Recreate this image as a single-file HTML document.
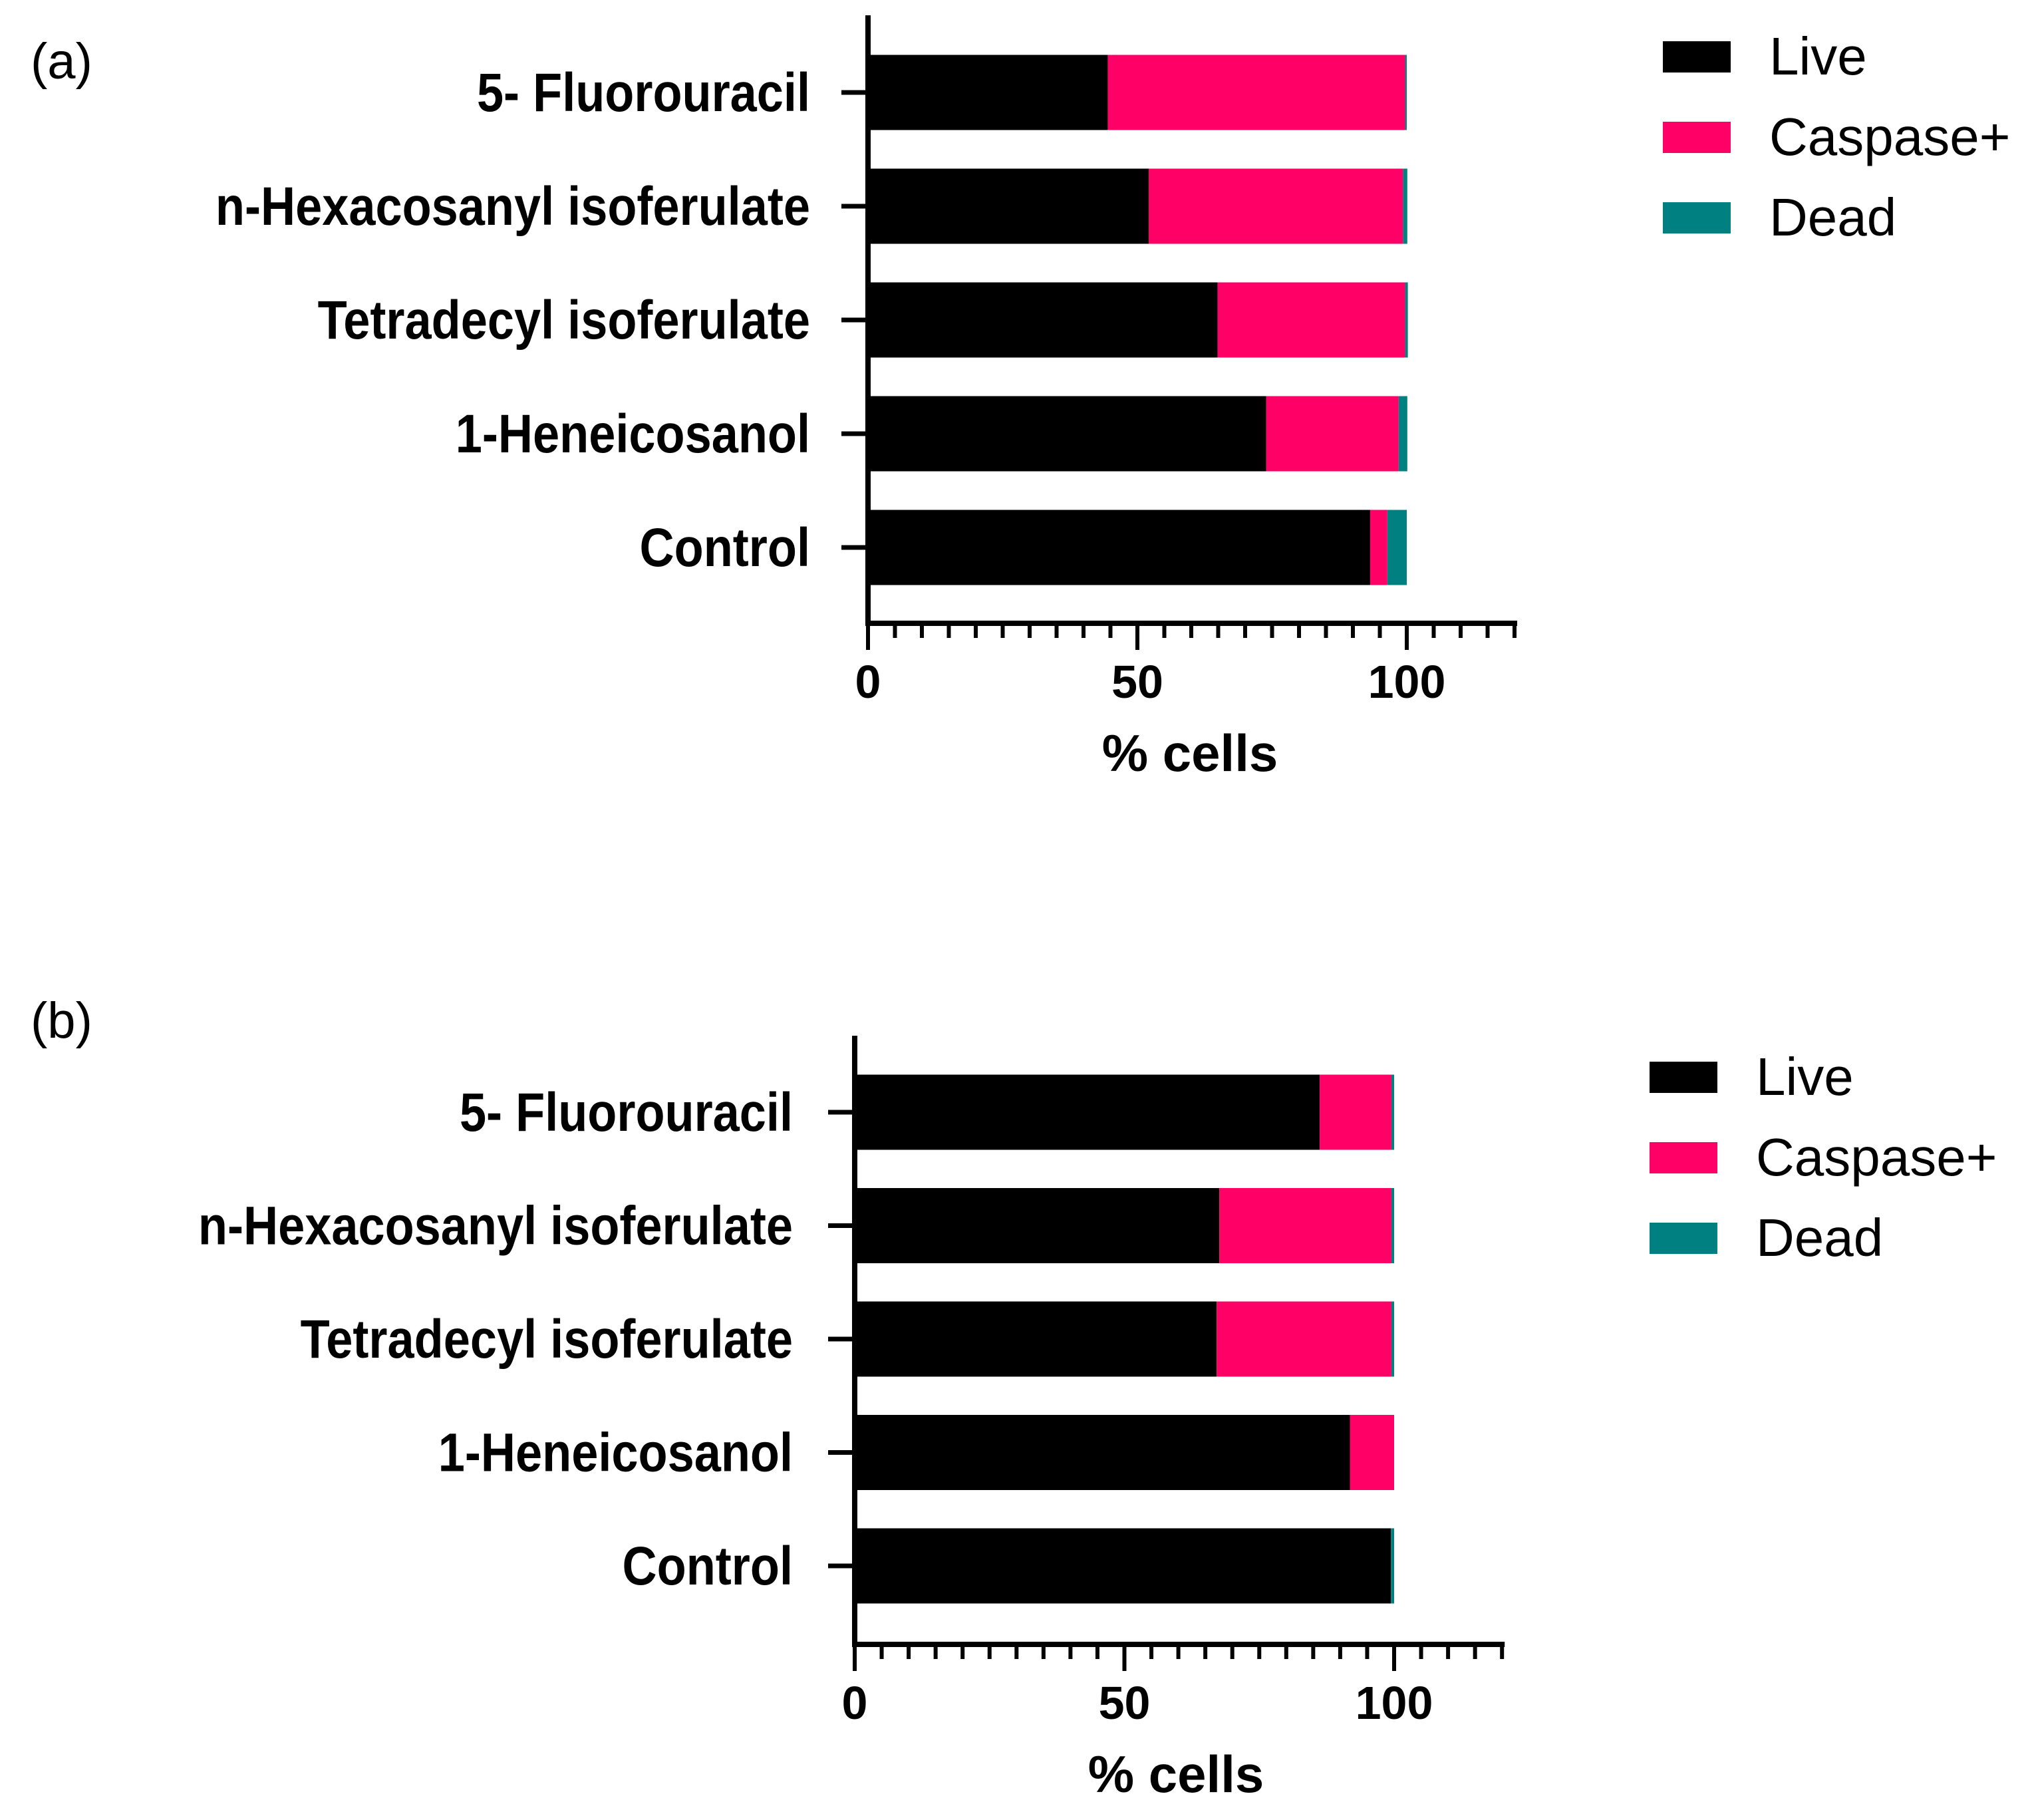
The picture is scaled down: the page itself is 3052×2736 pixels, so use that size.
<!DOCTYPE html>
<html>
<head>
<meta charset="utf-8">
<style>
  html, body { margin: 0; padding: 0; background: #fff; }
  svg { display: block; }
  text { font-family: "Liberation Sans", Arial, sans-serif; }
</style>
</head>
<body>
<svg id="fig" width="3052" height="2736" viewBox="0 0 3052 2736" xmlns="http://www.w3.org/2000/svg">
  <rect width="3052" height="2736" fill="#fff"/>
</svg>
<script>
// ---- data ----
const categories = ["5- Fluorouracil", "n-Hexacosanyl isoferulate", "Tetradecyl isoferulate", "1-Heneicosanol", "Control"];
const seriesNames = ["Live", "Caspase+", "Dead"];
const liveA = [44.5, 52.1, 64.9, 73.9, 93.2];
const caspA = [55.2, 47.2, 34.8, 24.6, 3.2];
const deadA = [0.3, 0.8, 0.5, 1.6, 3.6];
const liveB = [86.2, 67.6, 67.1, 91.8, 99.4];
const caspB = [13.3, 31.9, 32.4, 8.2, 0.0];
const deadB = [0.5, 0.5, 0.5, 0.0, 0.6];
const xTicks = [0, 50, 100];
const xTickLabels = ["0", "50", "100"];
const xMax = 120;
const minorStep = 5;

const colors = ["#000000", "#ff0066", "#008080"];
const NS = "http://www.w3.org/2000/svg";
const svg = document.getElementById("fig");

function mk(tag, attrs, parent) {
  const e = document.createElementNS(NS, tag);
  for (const k in attrs) e.setAttribute(k, attrs[k]);
  (parent || svg).appendChild(e);
  return e;
}

function panel(cfg, live, casp, dead) {
  const g = mk("g", {});
  
  
  const x = v => cfg.x0 + (v / 100) * (cfg.x100 - cfg.x0);
  const step = (cfg.lastCenter - cfg.firstCenter) / (categories.length - 1);
  const y = i => cfg.firstCenter + i * step;

  const pl = mk("text", {x: 46, y: cfg.letterY, "font-size": 76, fill: "#000"}, g);
  pl.textContent = cfg.letter;
  
  

  const segs = [live, casp, dead];
  categories.forEach((c, i) => {
    let acc = 0;
    for (let s = 0; s < 3; s++) {
      const v = segs[s][i];
      if (v > 0) {
        const r = mk("rect", {x: x(acc), y: y(i) - cfg.barH / 2, width: x(acc + v) - x(acc), height: cfg.barH, fill: colors[s]}, g);
        
        
      }
      acc += v;
    }
    const t = mk("line", {x1: cfg.axisX - 40, x2: cfg.axisX, y1: y(i), y2: y(i), stroke: "#000", "stroke-width": 7}, g);
    
    
    const lab = mk("text", {x: 0, y: 0, "font-size": 82, "font-weight": "bold", "text-anchor": "end", fill: "#000",
      transform: "translate(" + cfg.labelRight + "," + (y(i) + 28) + ") scale(0.88,1)"}, g);
    lab.textContent = c;
    
    
  });

  const ya = mk("line", {x1: cfg.axisX, x2: cfg.axisX, y1: cfg.axisTop, y2: cfg.axisY + 4, stroke: "#000", "stroke-width": 8}, g);
  
  
  const xa = mk("line", {x1: cfg.axisX - 4, x2: x(xMax) + 4, y1: cfg.axisY, y2: cfg.axisY, stroke: "#000", "stroke-width": 8}, g);
  
  
  for (let v = 0; v <= xMax; v += minorStep) {
    const major = xTicks.indexOf(v) >= 0;
    const tk = mk("line", {x1: x(v), x2: x(v), y1: cfg.axisY, y2: cfg.axisY + (major ? 40 : 22), stroke: "#000", "stroke-width": 6}, g);
    
    
  }
  xTicks.forEach((v, i) => {
    const tl = mk("text", {x: x(v), y: cfg.axisY + 112, "font-size": 70, "font-weight": "bold", "text-anchor": "middle", fill: "#000"}, g);
    tl.textContent = xTickLabels[i];
    
    
  });
  const xt = mk("text", {x: cfg.titleX, y: cfg.axisY + 222, "font-size": 78, "font-weight": "bold", "text-anchor": "middle", fill: "#000"}, g);
  xt.textContent = "% cells";
  
  

  seriesNames.forEach((n, s) => {
    const ly = cfg.legY + s * 121;
    const b = mk("rect", {x: cfg.legX, y: ly, width: 102, height: 47, fill: colors[s]}, g);
    
    
    const lt = mk("text", {x: cfg.legX + 160, y: ly + 50, "font-size": 80, fill: "#000"}, g);
    lt.textContent = n;
    
    
  });
}

panel({name: "panel-a", letter: "(a)", letterY: 118, x0: 1305, x100: 2115, axisX: 1305, axisTop: 23, axisY: 937,
  firstCenter: 139, lastCenter: 823, barH: 113, labelRight: 1218, titleX: 1789, legX: 2500, legY: 62},
  liveA, caspA, deadA);
panel({name: "panel-b", letter: "(b)", letterY: 1560, x0: 1285, x100: 2096, axisX: 1285, axisTop: 1557, axisY: 2472,
  firstCenter: 1672, lastCenter: 2354, barH: 113, labelRight: 1192, titleX: 1768, legX: 2480, legY: 1596},
  liveB, caspB, deadB);
</script>
</body>
</html>
